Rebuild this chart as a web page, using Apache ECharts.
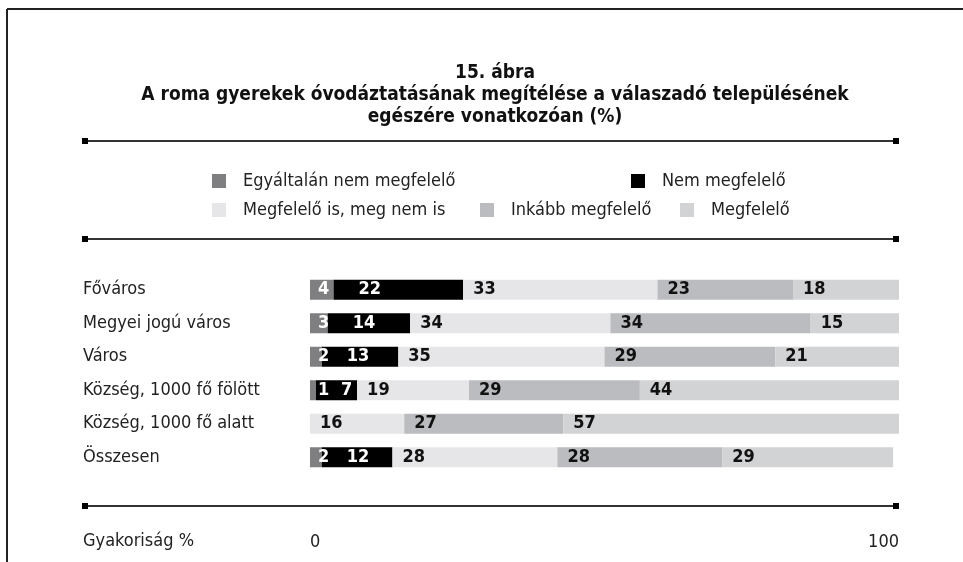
<!DOCTYPE html>
<html>
<head>
<meta charset="utf-8">
<script src="https://cdn.jsdelivr.net/npm/echarts@6/dist/echarts.min.js"></script>
<style>
  html, body { margin: 0; padding: 0; background: #fff; }
  #chart { width: 963px; height: 562px; }
</style>
</head>
<body>
<div id="chart"></div>
<script>
const FONT = "'DejaVu Sans Condensed', 'Liberation Sans Narrow', sans-serif";

const categories = ['Főváros', 'Megyei jogú város', 'Város', 'Község, 1000 fő fölött', 'Község, 1000 fő alatt', 'Összesen'];
const seriesNames = ['Egyáltalán nem megfelelő', 'Nem megfelelő', 'Megfelelő is, meg nem is', 'Inkább megfelelő', 'Megfelelő'];
const egyaltalanNem = [4, 3, 2, 1, 0, 2];
const nemMegfelelo = [22, 14, 13, 7, 0, 12];
const isIsNem = [33, 34, 35, 19, 16, 28];
const inkabb = [23, 34, 29, 29, 27, 28];
const megfelelo = [18, 15, 21, 44, 57, 29];
const axisTicks = [0, 100];

const colors = ['#7f7f82', '#000000', '#e6e6e8', '#bbbcbf', '#d2d3d5'];
const values = [egyaltalanNem, nemMegfelelo, isIsNem, inkabb, megfelelo];
const labelColors = ['#fff', '#fff', '#111', '#111', '#111'];
const labelOffsets = [[3, 0], [20, 0], [5, 0], [5, 0], [5, 0]];

const chart = echarts.init(document.getElementById('chart'));

// rule with square end caps
function rule(y) {
  return [
    { type: 'line', shape: { x1: 82, y1: y, x2: 899, y2: y }, style: { stroke: '#333', lineWidth: 2 } },
    { type: 'rect', shape: { x: 82, y: y - 3, width: 6, height: 6 }, style: { fill: '#000' } },
    { type: 'rect', shape: { x: 893, y: y - 3, width: 6, height: 6 }, style: { fill: '#000' } }
  ];
}

// legend positions: [left, top]
const legendPos = [[207, 167], [626, 167], [207, 196], [475, 196], [675, 196]];

chart.setOption({
  animation: false,
  textStyle: { fontFamily: FONT },
  title: {
    text: '15. ábra\nA roma gyerekek óvodáztatásának megítélése a válaszadó településének\negészére vonatkozóan (%)',
    left: 490,
    top: 57,
    textAlign: 'center',
    textStyle: { fontFamily: FONT, fontSize: 19, fontWeight: 'bold', color: '#111', lineHeight: 22 }
  },
  legend: seriesNames.map((name, i) => ({
    data: [name],
    left: legendPos[i][0],
    top: legendPos[i][1],
    icon: 'rect',
    itemWidth: 14,
    itemHeight: 14,
    selectedMode: false,
    textStyle: { fontFamily: FONT, fontSize: 18, color: '#222', padding: [0, 0, 0, 12] }
  })),
  grid: { left: 310, right: 64, top: 273, bottom: 88 },
  xAxis: {
    type: 'value',
    min: 0,
    max: 100,
    interval: 100,
    axisLine: { show: false },
    axisTick: { show: false },
    splitLine: { show: false },
    axisLabel: {
      margin: 59,
      fontSize: 18,
      color: '#222',
      alignMinLabel: 'left',
      alignMaxLabel: 'right',
      formatter: (v) => axisTicks.includes(v) ? String(v) : ''
    }
  },
  yAxis: {
    type: 'category',
    data: categories,
    inverse: true,
    axisLine: { show: false },
    axisTick: { show: false },
    axisLabel: { align: 'left', margin: 227, fontSize: 18, color: '#222' }
  },
  series: seriesNames.map((name, i) => ({
    name,
    type: 'bar',
    stack: 'total',
    barWidth: 20,
    itemStyle: { color: colors[i] },
    label: {
      show: true,
      position: 'insideLeft',
      offset: labelOffsets[i],
      color: labelColors[i],
      fontFamily: FONT,
      fontSize: 18,
      fontWeight: 'bold',
      formatter: (p) => p.value > 0 ? String(p.value) : ''
    },
    data: values[i]
  })),
  graphic: [
    { type: 'line', shape: { x1: 7, y1: 9, x2: 963, y2: 9 }, style: { stroke: '#222', lineWidth: 2 } },
    { type: 'line', shape: { x1: 7, y1: 9, x2: 7, y2: 562 }, style: { stroke: '#222', lineWidth: 2 } },
    ...rule(141),
    ...rule(239),
    ...rule(506),
    { type: 'text', left: 83, top: 532, style: { text: 'Gyakoriság %', font: '18px ' + FONT, fill: '#222' } }
  ]
});
</script>
</body>
</html>
